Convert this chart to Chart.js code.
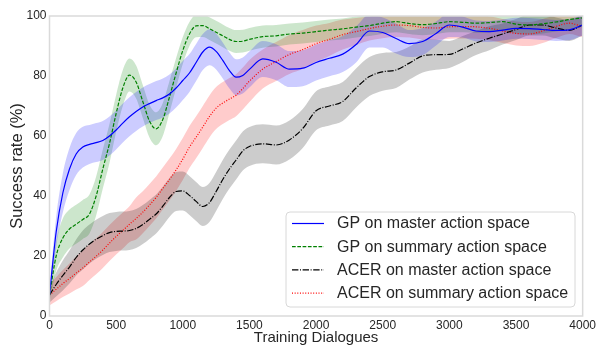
<!DOCTYPE html>
<html>
<head>
<meta charset="utf-8">
<script src="https://cdn.jsdelivr.net/npm/chart.js@4"></script>
<style>
  html, body { margin: 0; padding: 0; background: #fff; }
</style>
</head>
<body>
<canvas id="grafico" width="598" height="346"></canvas>
<script>
// numero de dialogos de treino (eixo x)
const dialogos = [0, 50, 100, 150, 200, 250, 300, 350, 400, 450, 500, 550, 600, 650, 700, 750,
  800, 850, 900, 950, 1000, 1050, 1100, 1150, 1200, 1250, 1300, 1350, 1400, 1450, 1500,
  1600, 1700, 1800, 1900, 2000, 2100, 2200, 2300, 2400, 2500, 2600, 2700, 2800, 2900, 3000,
  3100, 3200, 3300, 3400, 3500, 3600, 3700, 3800, 3900, 4000];

const legendas = ['GP on master action space', 'GP on summary action space',
  'ACER on master action space', 'ACER on summary action space'];

const ticksX = [0, 500, 1000, 1500, 2000, 2500, 3000, 3500, 4000];
const ticksY = [0, 20, 40, 60, 80, 100];

// taxa de sucesso media (%) de cada politica
const gpMaster = [7, 28, 41, 49, 54, 56.3, 57.2, 57.8, 58.5, 60, 62, 64.3, 66.4, 68.2, 69.7, 70.8,
  71.8, 72.7, 74, 76, 78.5, 81, 84.5, 88, 89.6, 88.2, 85.2, 81.8, 79.6, 80.2, 82.2,
  85.7, 84.6, 82.3, 82.6, 84.5, 85.9, 87.3, 90.5, 95, 94.5, 92.5, 90.8, 91.5, 94.2, 97,
  96.3, 95, 94.8, 95.3, 95.9, 95.8, 95.5, 95.2, 95.4, 97];
const gpSummary = [7, 20, 26, 29, 30.6, 32.2, 34, 40, 49, 57.5, 67.5, 76, 80.3, 78, 71.5, 65,
  62.4, 65.5, 73, 81, 88.5, 94, 96.7, 96.8, 95.8, 94.6, 93.4, 92.2, 91.5, 91.6, 92.2,
  93.1, 93.4, 94, 94.3, 94.8, 95.3, 95.7, 96.3, 96.8, 97.6, 98.1, 97.5, 97.1, 97.5, 98.1,
  97.9, 97.6, 97.8, 98.1, 97.3, 97, 97.4, 98, 98.8, 99.4];
const acerMaster = [7, 10.5, 13.5, 16.3, 19.5, 22, 24, 25.6, 26.8, 27.8, 28.2, 28.3, 28.5, 29.2, 30.5, 32.2,
  34, 36.6, 39.5, 41.5, 41.7, 40.2, 38.2, 36.5, 37.8, 41.5, 45.5, 49, 52, 55, 56.5,
  57.4, 57, 58.7, 62.5, 68.4, 70, 71.5, 76, 79.8, 81.4, 82, 84.3, 86.7, 87.1, 87.2,
  89, 91, 92.6, 94, 95.5, 97, 97, 96, 95.2, 97];
const acerSummary = [7, 8.9, 10.8, 12.5, 14.3, 16, 18, 19.9, 22, 24.3, 26.5, 28.5, 30.6, 32.5, 34.6, 37,
  39.5, 42.5, 45.5, 48.7, 52.3, 56.3, 59.6, 63, 66.5, 69.3, 71, 72.3, 73.6, 75.8, 78.3,
  82.3, 84.8, 87.2, 88.8, 90.8, 92.2, 93.8, 94.8, 95.8, 96.6, 97, 96.8, 96.2, 96, 96.4,
  96.5, 96.4, 95.9, 95, 94.2, 94, 95, 96.5, 97.6, 96.4];

// meia largura da faixa sombreada em volta de cada media
const gpMasterDesvio = [2.5, 5, 6.5, 7, 7, 6.8, 6.5, 6.5, 6.5, 6.5, 6.5, 6.5, 6.5, 6.5, 6.5, 6.5,
  6.5, 6.5, 6.5, 6.5, 6.5, 6.3, 6.2, 6, 6, 6, 6, 6, 6, 6, 6,
  6, 6, 6, 6, 6, 6, 6, 6, 5.5, 5, 5, 4.5, 4.5, 4, 4,
  3.5, 3.5, 3.5, 3.5, 3.5, 3.5, 3.5, 3.5, 3.5, 3.5];
const gpSummaryDesvio = [2.5, 5, 6.5, 6.5, 6.5, 6.5, 6.5, 6.5, 6.5, 6.5, 6.2, 6, 5.5, 5.5, 5.5, 5.5,
  5.5, 5.5, 5.3, 5, 4.5, 4, 3.8, 3.8, 3.8, 3.8, 3.8, 3.8, 3.8, 3.8, 3.8,
  3.7, 3.6, 3.5, 3.5, 3.5, 3.5, 3.5, 3.5, 3.5, 3.5, 3.5, 3.5, 3.5, 3.5, 3.5,
  3.3, 3.2, 3.2, 3.2, 3.2, 3.2, 3.2, 3.2, 3.2, 3];
const acerMasterDesvio = [2.5, 4, 5, 5.5, 6, 6.5, 6.5, 6.5, 6.5, 6.5, 6.5, 6.5, 6.5, 6.5, 6.5, 6.5,
  6.5, 6.5, 6.5, 6.5, 6.5, 6.5, 6.5, 6.5, 6.5, 6.5, 6.5, 6.5, 6.5, 6.5, 6.5,
  6.5, 6.5, 6.5, 6.5, 6.5, 6.5, 6.5, 6.5, 6.5, 6.3, 6, 5.5, 5.5, 5, 4.5,
  4.3, 4, 4, 3.5, 3.5, 3.5, 3.5, 3.5, 3.5, 3.5];
const acerSummaryDesvio = [3.5, 4, 4.5, 5, 5.5, 6, 6, 6, 6, 6, 6, 6, 6, 7, 7, 7,
  7, 7, 7, 7, 7, 7, 7, 7, 7, 7, 7, 7, 7, 7, 7,
  6.5, 6.5, 6.5, 6.5, 6, 5.5, 5, 4.5, 4, 4, 4, 4, 4, 4, 4,
  4, 4, 4, 4, 4, 4, 4, 3.8, 3.6, 3.5];

const series = [
  { label: legendas[0], media: gpMaster, desvio: gpMasterDesvio, cor: '#0000ff', sombra: 'rgba(0,0,255,0.2)', traco: [] },
  { label: legendas[1], media: gpSummary, desvio: gpSummaryDesvio, cor: '#008000', sombra: 'rgba(0,128,0,0.2)', traco: [3.7, 1.6] },
  { label: legendas[2], media: acerMaster, desvio: acerMasterDesvio, cor: '#000000', sombra: 'rgba(0,0,0,0.2)', traco: [6.4, 1.6, 1, 1.6] },
  { label: legendas[3], media: acerSummary, desvio: acerSummaryDesvio, cor: '#ff0000', sombra: 'rgba(255,0,0,0.2)', traco: [1, 1.65] }
];

const pontos = (valores) => dialogos.map((x, i) => ({ x: x, y: valores[i] }));

const datasets = [];
series.forEach(s => {
  // faixa: limite superior preenchido ate o inferior
  datasets.push({
    data: pontos(s.media.map((m, i) => m + s.desvio[i])),
    borderWidth: 0, pointRadius: 0, fill: '+1', backgroundColor: s.sombra,
    cubicInterpolationMode: 'monotone', clip: 0, order: 2
  });
  datasets.push({
    data: pontos(s.media.map((m, i) => m - s.desvio[i])),
    borderWidth: 0, pointRadius: 0, fill: false,
    cubicInterpolationMode: 'monotone', clip: 0, order: 2
  });
});
series.forEach(s => {
  datasets.push({
    label: s.label,
    data: pontos(s.media),
    borderColor: s.cor, borderWidth: 1.2, borderDash: s.traco,
    pointRadius: 0, fill: false, cubicInterpolationMode: 'monotone', clip: 0, order: 1
  });
});

const fonte = 'Liberation Sans, Arial, sans-serif';
const corTexto = '#262626';
const corBorda = '#dadada';

// moldura nos quatro lados e legenda dentro da area do grafico
const molduraLegenda = {
  id: 'molduraLegenda',
  afterDraw(chart) {
    const { ctx, chartArea: a } = chart;
    ctx.save();
    ctx.strokeStyle = corBorda;
    ctx.lineWidth = 1.5;
    ctx.strokeRect(a.left, a.top, a.right - a.left, a.bottom - a.top);

    const bx = 286, by = 212, bw = 289, bh = 95;
    ctx.beginPath();
    ctx.roundRect(bx, by, bw, bh, 4);
    ctx.fillStyle = 'rgba(255,255,255,0.8)';
    ctx.fill();
    ctx.strokeStyle = '#d8d8d8';
    ctx.lineWidth = 1;
    ctx.stroke();

    ctx.font = '16px ' + fonte;
    ctx.textBaseline = 'middle';
    ctx.textAlign = 'left';
    series.forEach((s, i) => {
      const y = by + 11.5 + i * 23.2;
      ctx.beginPath();
      ctx.setLineDash(s.traco);
      ctx.strokeStyle = s.cor;
      ctx.lineWidth = 1.2;
      ctx.moveTo(292, y);
      ctx.lineTo(324, y);
      ctx.stroke();
      ctx.setLineDash([]);
      ctx.fillStyle = corTexto;
      ctx.fillText(s.label, 337, y + 0.5);
    });
    ctx.restore();
  }
};

new Chart(document.getElementById('grafico'), {
  type: 'line',
  data: { datasets: datasets },
  plugins: [molduraLegenda],
  options: {
    responsive: false,
    animation: false,
    layout: { padding: { top: 16, right: 15, left: 0, bottom: 0 } },
    plugins: { legend: { display: false }, tooltip: { enabled: false } },
    scales: {
      x: {
        type: 'linear', min: 0, max: 4000,
        afterBuildTicks: (eixo) => { eixo.ticks = ticksX.map(v => ({ value: v })); },
        afterFit: (eixo) => { eixo.height = 30; },
        grid: { display: false, drawTicks: false },
        border: { display: false },
        ticks: { color: corTexto, font: { family: fonte, size: 12 }, padding: 2, maxRotation: 0,
          callback: (v) => String(v) },
        title: { display: true, text: 'Training Dialogues', color: corTexto, font: { family: fonte, size: 15 }, padding: { top: 0, bottom: -1 } }
      },
      y: {
        type: 'linear', min: 0, max: 100,
        afterBuildTicks: (eixo) => { eixo.ticks = ticksY.map(v => ({ value: v })); },
        afterFit: (eixo) => { eixo.width = 49.5; },
        grid: { display: false, drawTicks: false },
        border: { display: false },
        ticks: { color: corTexto, font: { family: fonte, size: 12 }, padding: 3,
          callback: (v) => String(v) },
        title: { display: true, text: 'Success rate (%)', color: corTexto, font: { family: fonte, size: 16.5 }, padding: { top: 8, bottom: 0 } }
      }
    }
  }
});
</script>
</body>
</html>
